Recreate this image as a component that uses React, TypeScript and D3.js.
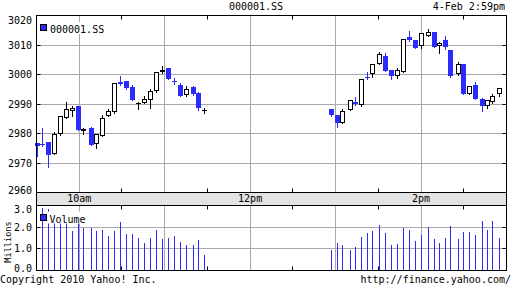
import React from 'react';
import * as d3 from 'd3';

const times = [
  '09:30:40', '09:34:00', '09:38:30', '09:42:30', '09:46:30', '09:51:00', '09:55:00', '09:59:30', '10:03:00', '10:08:30',
  '10:12:00', '10:16:00', '10:20:30', '10:25:00', '10:29:00', '10:33:00', '10:37:30', '10:41:30', '10:45:30', '10:50:00',
  '10:54:00', '10:58:30', '11:03:00', '11:07:00', '11:11:00', '11:15:00', '11:20:00', '11:24:00', '11:28:00',
  '12:57:00', '13:01:00', '13:04:30', '13:10:30', '13:14:00', '13:18:00', '13:22:30', '13:26:00', '13:30:30', '13:35:00',
  '13:39:00', '13:43:30', '13:48:00', '13:52:00', '13:56:00', '14:00:00', '14:05:00', '14:09:30', '14:13:00', '14:17:00',
  '14:21:00', '14:26:00', '14:29:30', '14:34:00', '14:38:00', '14:43:00', '14:47:00', '14:50:30', '14:55:00',
];
const opens = [
  2976.7, 2976.6, 2977.0, 2973.1, 2979.7, 2985.4, 2987.6, 2989.4, 2980.7, 2981.9,
  2976.5, 2979.3, 2985.9, 2987.4, 2997.3, 2997.8, 2995.9, 2990.4, 2990.4, 2991.2,
  2994.3, 3000.9, 3002.1, 2997.9, 2996.4, 2993.2, 2995.7, 2993.6, 2988.1,
  2988.2, 2986.2, 2983.4, 2988.1, 2990.6, 2989.5, 2999.2, 3000.2, 3003.5, 3006.3,
  3001.6, 2999.6, 3001.0, 3012.8, 3011.8, 3009.8, 3013.2, 3014.4, 3009.8, 3011.8,
  3008.4, 3000.1, 3003.5, 2993.3, 2996.4, 2991.8, 2989.4, 2990.7, 2993.4,
];
const highs = [
  2976.7, 2981.9, 2977.0, 2980.5, 2985.8, 2990.6, 2989.4, 2989.4, 2982.0, 2982.2,
  2980.0, 2986.2, 2988.3, 2997.0, 2999.5, 2997.8, 2996.4, 2990.7, 2992.7, 2995.1,
  3001.0, 3002.9, 3002.3, 2998.7, 2997.2, 2996.1, 2996.2, 2994.0, 2988.7,
  2988.2, 2986.2, 2988.2, 2991.5, 2992.4, 2998.5, 3001.0, 3003.6, 3007.7, 3007.3,
  3001.6, 3002.1, 3012.2, 3014.6, 3011.8, 3013.9, 3015.5, 3014.4, 3010.9, 3012.9,
  3008.4, 3004.4, 3003.5, 2996.0, 2997.4, 2992.2, 2991.2, 2993.4, 2995.3,
];
const lows = [
  2972.3, 2975.9, 2968.5, 2973.1, 2979.5, 2985.4, 2986.0, 2981.3, 2980.0, 2976.0,
  2975.2, 2979.0, 2985.9, 2987.0, 2996.5, 2995.2, 2991.2, 2988.2, 2990.4, 2988.8,
  2994.0, 3000.5, 2998.4, 2996.9, 2992.6, 2992.8, 2993.0, 2987.9, 2987.1,
  2986.0, 2982.2, 2983.4, 2988.1, 2989.6, 2989.2, 2998.4, 2999.1, 3003.5, 3001.3,
  2998.6, 2998.7, 3001.0, 3011.5, 3009.0, 3009.0, 3013.0, 3009.3, 3007.3, 3008.6,
  2999.2, 3000.0, 2993.3, 2993.3, 2991.6, 2987.7, 2988.6, 2990.5, 2992.6,
];
const closes = [
  2975.8, 2976.4, 2972.8, 2979.9, 2985.8, 2988.2, 2988.5, 2981.3, 2981.5, 2976.2,
  2979.7, 2985.4, 2987.6, 2997.0, 2996.8, 2995.5, 2991.3, 2990.4, 2991.6, 2994.4,
  3001.0, 3001.6, 2998.4, 2997.6, 2992.8, 2995.2, 2993.3, 2988.5, 2988.1,
  2986.3, 2983.6, 2987.7, 2991.5, 2989.9, 2998.5, 2999.0, 3003.6, 3007.0, 3001.3,
  2999.6, 3001.6, 3012.2, 3011.6, 3009.0, 3013.9, 3014.4, 3009.3, 3010.7, 3009.2,
  2999.6, 3003.5, 2993.3, 2996.0, 2991.6, 2989.2, 2991.2, 2992.8, 2995.3,
];
const volumes = [
  0, 2.90, 2.84, 2.5, 2.4, 2.3, 1.83, 2.3, 1.98, 1.98,
  1.83, 1.88, 1.60, 1.83, 2.25, 1.70, 1.70, 1.51, 1.28, 1.51,
  1.88, 1.46, 1.51, 1.60, 1.32, 1.18, 1.18, 1.41, 0.72,
  0.95, 1.28, 1.18, 0.95, 1.09, 1.55, 1.74, 1.83, 2.11, 1.74,
  1.18, 1.23, 1.97, 1.88, 1.37, 1.65, 2.01, 1.46, 1.28, 1.51,
  2.06, 1.46, 1.78, 1.78, 1.65, 2.29, 1.88, 2.29, 1.51,
];

const priceTicks = [2960, 2970, 2980, 2990, 3000, 3010, 3020];
const volumeTicks = [0, 1, 2, 3];
const hourTicks = ['10:00', '11:00', '12:00', '13:00', '14:00'];
const halfHourTicks = ['10:30', '11:30', '12:30', '13:30', '14:30'];
const timeLabels = [
  { t: '10:00', label: '10am' },
  { t: '12:00', label: '12pm' },
  { t: '14:00', label: '2pm' },
];

const FONT = '"DejaVu Sans Mono", "Liberation Mono", monospace';
const BLUE = '#2b2bff';
const GRID = '#a9a9a9';

function toMin(s: string): number {
  const p = s.split(':').map(Number);
  return p[0] * 60 + p[1] + (p[2] || 0) / 60;
}

export default function App() {
  const left = 36.5, right = 506.5;
  const mainTop = 15.5, mainBottom = 192.5;
  const volTop = 205.5, volBottom = 270.5;

  const x = d3.scaleLinear().domain([toMin('09:30'), toMin('15:00')]).range([left, right]);
  const y = d3.scaleLinear().domain([2960, 3020]).range([mainBottom, mainTop]);
  const yv = d3.scaleLinear().domain([0, 3]).range([volBottom, volTop]);

  const crisp = (v: number) => Math.floor(v) + 0.5;

  const candles = times.map((t, i) => ({
    x: x(toMin(t)),
    o: opens[i], h: highs[i], l: lows[i], c: closes[i], v: volumes[i],
  }));

  return (
    <svg width={512} height={288} style={{ position: 'absolute', left: 0, top: 0, background: '#fff' }}
      fontFamily={FONT} fontSize={10}>
      <rect x={0} y={0} width={512} height={288} fill="#fff" />
      {/* title */}
      <text x={256} y={10} textAnchor="middle" fill="#000">000001.SS</text>
      <text x={505} y={10} textAnchor="end" fill="#000">4-Feb 2:59pm</text>

      {/* main grid */}
      {priceTicks.slice(1, -1).map(v => (
        <line key={'pg' + v} x1={left} x2={right} y1={crisp(y(v))} y2={crisp(y(v))} stroke={GRID} />
      ))}
      {hourTicks.map(t => (
        <line key={'vg' + t} x1={crisp(x(toMin(t)))} x2={crisp(x(toMin(t)))} y1={mainTop} y2={mainBottom} stroke={GRID} />
      ))}
      {priceTicks.slice(1, -1).map(v => (
        <g key={'pt' + v}>
          <line x1={left} x2={left + 4} y1={crisp(y(v))} y2={crisp(y(v))} stroke="#000" />
          <line x1={right - 4} x2={right} y1={crisp(y(v))} y2={crisp(y(v))} stroke="#000" />
        </g>
      ))}
      {halfHourTicks.map(t => (
        <g key={'ht' + t}>
          <line x1={crisp(x(toMin(t)))} x2={crisp(x(toMin(t)))} y1={mainTop} y2={mainTop + 4} stroke="#000" />
          <line x1={crisp(x(toMin(t)))} x2={crisp(x(toMin(t)))} y1={mainBottom - 4} y2={mainBottom} stroke="#000" />
        </g>
      ))}

      {/* price labels */}
      {priceTicks.map(v => (
        <text key={'pl' + v} x={32} y={Math.max(24, Math.min(194, y(v) + 3.6))} textAnchor="end" fill="#000">{v}</text>
      ))}

      {/* candles */}
      {candles.map((d, i) => {
        const px = Math.floor(d.x);
        const up = d.c > d.o;
        const flat = d.c === d.o;
        const col = flat ? '#000' : up ? '#000' : BLUE;
        const top = Math.round(y(Math.max(d.o, d.c)));
        const bot = Math.round(y(Math.min(d.o, d.c)));
        const hgt = Math.max(1, bot - top);
        return (
          <g key={'c' + i}>
            <line x1={px + 0.5} x2={px + 0.5} y1={Math.round(y(d.h))} y2={Math.round(y(d.l)) + 1} stroke={col} />
            {up ? (
              <rect x={px - 1.5} y={top + 0.5} width={4} height={Math.max(1, hgt - 1)} fill="#fff" stroke="#000" />
            ) : (
              <rect x={px - 2} y={top} width={5} height={hgt} fill={col} />
            )}
          </g>
        );
      })}

      {/* main legend */}
      <rect x={47} y={22} width={56} height={12} fill="#fff" />
      <rect x={40.5} y={24.5} width={6} height={6} fill={BLUE} stroke="#000" />
      <text x={50} y={32.5} fill="#000">000001.SS</text>

      {/* main frame */}
      <rect x={left} y={mainTop} width={right - left} height={mainBottom - mainTop} fill="none" stroke="#000" />

      {/* time band */}
      <rect x={left} y={mainBottom} width={right - left} height={volTop - mainBottom} fill="#e3e3e3" stroke="#000" />
      {timeLabels.map(d => (
        <text key={'tl' + d.t} x={x(toMin(d.t))} y={201.5} textAnchor="middle" fill="#000">{d.label}</text>
      ))}

      {/* volume grid */}
      {volumeTicks.slice(1, -1).map(v => (
        <line key={'vgh' + v} x1={left} x2={right} y1={crisp(yv(v))} y2={crisp(yv(v))} stroke={GRID} />
      ))}
      {hourTicks.map(t => (
        <line key={'vgv' + t} x1={crisp(x(toMin(t)))} x2={crisp(x(toMin(t)))} y1={volTop} y2={volBottom} stroke={GRID} />
      ))}
      {volumeTicks.slice(1, -1).map(v => (
        <g key={'vt' + v}>
          <line x1={left} x2={left + 4} y1={crisp(yv(v))} y2={crisp(yv(v))} stroke="#000" />
          <line x1={right - 4} x2={right} y1={crisp(yv(v))} y2={crisp(yv(v))} stroke="#000" />
        </g>
      ))}
      {halfHourTicks.map(t => (
        <g key={'vht' + t}>
          <line x1={crisp(x(toMin(t)))} x2={crisp(x(toMin(t)))} y1={volTop} y2={volTop + 4} stroke="#000" />
          <line x1={crisp(x(toMin(t)))} x2={crisp(x(toMin(t)))} y1={volBottom - 4} y2={volBottom} stroke="#000" />
        </g>
      ))}

      {/* volume bars */}
      {candles.filter(d => d.v > 0).map((d, i) => (
        <line key={'vb' + i} x1={Math.floor(d.x) + 0.5} x2={Math.floor(d.x) + 0.5} y1={Math.round(yv(d.v))} y2={volBottom} stroke={BLUE} />
      ))}

      {/* volume legend */}
      <rect x={47} y={211.5} width={39} height={12} fill="#fff" />
      <rect x={40.5} y={214.5} width={6} height={6} fill={BLUE} stroke="#000" />
      <text x={49.5} y={222.5} fill="#000">Volume</text>

      {/* volume frame */}
      <rect x={left} y={volTop} width={right - left} height={volBottom - volTop} fill="none" stroke="#000" />

      {/* volume labels */}
      {volumeTicks.map(v => (
        <text key={'vl' + v} x={32} y={Math.max(213.3, Math.min(272, yv(v) + 3.6))} textAnchor="end" fill="#000">{v.toFixed(1)}</text>
      ))}
      <text transform="translate(11,242) rotate(-90)" textAnchor="middle" fontSize={8.6} fill="#000">Millions</text>

      {/* footer */}
      <text x={0} y={283} fill="#000">Copyright 2010 Yahoo! Inc.</text>
      <text x={511} y={283} textAnchor="end" fill="#000">http://finance.yahoo.com/</text>
    </svg>
  );
}
